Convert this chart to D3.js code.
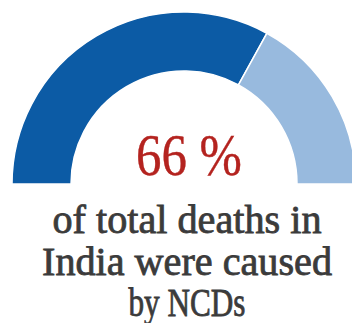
<!DOCTYPE html>
<html>
<head>
<meta charset="utf-8">
<script src="https://cdn.jsdelivr.net/npm/d3@7"></script>
<style>
  body { margin: 0; background: #fff; }
  svg { display: block; }
  .share { font-family: 'Liberation Serif', 'DejaVu Serif', serif; fill: #b4231f; stroke: #b4231f; stroke-width: 0.4; }
  .caption { font-family: 'Liberation Serif', 'DejaVu Serif', serif; fill: #3b3b3b; stroke: #3b3b3b; stroke-width: 0.8; }
</style>
</head>
<body>
<svg id="chart" width="352" height="323"></svg>
<script>
// gauge data
const categories = ['NCDs', 'Other causes']
const shares = [66, 34]
const colors = ['#0c5ba5', '#98bade']
const headline = '66 %'
const captionLines = ['of total deaths in', 'India were caused', 'by NCDs']

const cx = 184
const cy = 184

const svg = d3.select('#chart')

let pie = d3.pie()
  .sort(null)
  .startAngle(-Math.PI / 2)
  .endAngle(Math.PI / 2)

let arc = d3.arc()
  .innerRadius(113)
  .outerRadius(172)

let gauge = svg.append('g')
  .attr('class', 'gauge')
  .attr('transform', `translate(${cx}, ${cy})`)

gauge.selectAll('path')
  .data(pie(shares))
  .join('path')
  .attr('d', arc)
  .attr('fill', (d, i) => colors[i])
  .attr('stroke', '#fff')
  .attr('stroke-width', 1.5)
  .append('title')
  .text((d, i) => `${categories[i]}: ${shares[i]}%`)

// big number in the middle
svg.append('text')
  .attr('class', 'share')
  .attr('x', 189)
  .attr('y', 175)
  .attr('text-anchor', 'middle')
  .attr('font-size', 60)
  .attr('textLength', 106)
  .attr('lengthAdjust', 'spacingAndGlyphs')
  .text(headline)

// caption below, squeezed to the widths in the print version
const lineWidths = [269, 290, 117]
let caption = svg.append('text')
  .attr('class', 'caption')
  .attr('text-anchor', 'middle')
  .attr('font-size', 39)

captionLines.forEach((txt, i) => {
  caption.append('tspan')
    .attr('x', 187)
    .attr('y', 233 + i * 41.5)
    .attr('textLength', lineWidths[i])
    .attr('lengthAdjust', 'spacingAndGlyphs')
    .text(txt)
})
</script>
</body>
</html>
